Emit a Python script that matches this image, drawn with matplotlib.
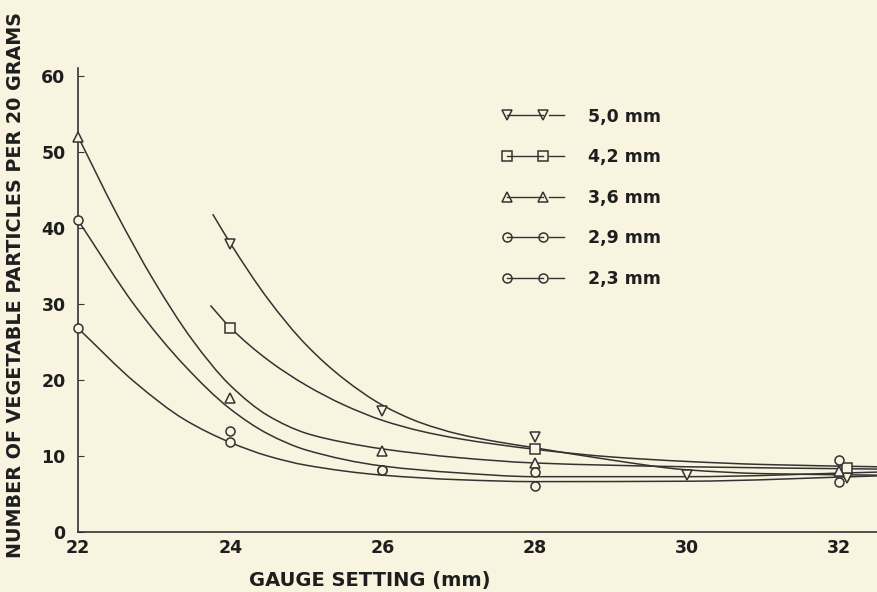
import numpy as np
import matplotlib
matplotlib.use("Agg")
import matplotlib.pyplot as plt
from matplotlib.lines import Line2D
from matplotlib.path import Path
from matplotlib.patches import PathPatch

gauge_ticks = [22, 24, 26, 28, 30, 32]
series_labels = ["5,0 mm", "4,2 mm", "3,6 mm", "2,9 mm", "2,3 mm"]
series_markers = ["v", "s", "^", "o", "o"]

x_50 = [24, 26, 28, 30, 32.1]
y_50 = [37.9, 15.9, 12.5, 7.5, 7.1]
x_42 = [24, 28, 32.1]
y_42 = [26.9, 11.0, 8.4]
x_36 = [22, 24, 26, 28, 32]
y_36 = [52.0, 17.6, 10.7, 9.1, 8.0]
x_29 = [22, 24, 26, 28, 32]
y_29 = [41.0, 13.3, 8.2, 7.9, 9.5]
x_23 = [22, 24, 26, 28, 32]
y_23 = [26.8, 11.8, 8.2, 6.1, 6.6]

# curvas desenhadas a mao (tracadas do grafico)
cx_50 = [23.77, 24.0, 24.5, 25.0, 25.5, 26.0, 26.5, 27.0, 27.5, 28.0, 29.0, 30.0, 31.0, 32.5]
cy_50 = [41.8, 38.0, 30.6, 24.6, 20.1, 16.7, 14.4, 12.9, 11.9, 11.1, 9.5, 8.2, 7.7, 7.5]
cx_42 = [23.74, 24.0, 24.5, 25.0, 25.5, 26.0, 26.5, 27.0, 28.0, 29.0, 30.0, 31.0, 32.5]
cy_42 = [29.8, 26.9, 22.6, 19.3, 16.7, 14.7, 13.3, 12.3, 10.9, 9.9, 9.3, 8.9, 8.6]
cx_36 = [22.0, 22.5, 23.0, 23.5, 24.0, 24.5, 25.0, 25.5, 26.0, 27.0, 28.0, 30.0, 32.5]
cy_36 = [52.0, 42.0, 33.0, 25.3, 19.3, 15.3, 13.0, 11.8, 10.95, 9.8, 9.1, 8.6, 8.3]
cx_29 = [22.0, 22.76, 23.4, 24.0, 24.5, 25.0, 26.0, 27.0, 28.0, 30.0, 32.5]
cy_29 = [41.0, 29.6, 21.9, 16.2, 12.9, 10.8, 8.7, 7.8, 7.3, 7.3, 7.9]
cx_23 = [22.0, 22.76, 23.4, 24.0, 24.5, 25.0, 26.0, 27.0, 28.0, 30.0, 32.5]
cy_23 = [26.8, 19.6, 14.8, 11.8, 10.0, 8.8, 7.5, 6.9, 6.65, 6.7, 7.4]

BG = "#f8f4df"
INK = "#333333"
TXT = "#1e1e1e"
plt.rcParams["font.family"] = ["DejaVu Sans"]


def curva_suave(x, y):
    """caminho bezier (tangentes monotonas de Fritsch-Carlson) pelos pontos tracados"""
    x = np.asarray(x, float)
    y = np.asarray(y, float)
    h = np.diff(x)
    d = np.diff(y) / h
    m = np.zeros_like(y)
    m[0], m[-1] = d[0], d[-1]
    for i in range(1, len(y) - 1):
        if d[i - 1] * d[i] <= 0:
            m[i] = 0.0
        else:
            w1 = 2 * h[i] + h[i - 1]
            w2 = h[i] + 2 * h[i - 1]
            m[i] = (w1 + w2) / (w1 / d[i - 1] + w2 / d[i])
    verts = [(x[0], y[0])]
    codes = [Path.MOVETO]
    for i in range(len(x) - 1):
        verts += [(x[i] + h[i] / 3, y[i] + m[i] * h[i] / 3),
                  (x[i + 1] - h[i] / 3, y[i + 1] - m[i + 1] * h[i] / 3),
                  (x[i + 1], y[i + 1])]
        codes += [Path.CURVE4] * 3
    return Path(verts, codes)


class MarcaLegenda:
    """marcador--linha--marcador seguido de um tracinho"""
    def legend_artist(self, legend, orig_handle, fontsize, handlebox):
        x0, y0 = handlebox.xdescent, handlebox.ydescent
        w, h = handlebox.width, handlebox.height
        ym = y0 + h / 2
        m = orig_handle.get_marker()
        a = Line2D([x0 + 4, x0 + 0.66 * w], [ym, ym], color=INK, lw=1.0,
                   marker=m, markersize=6.5, markerfacecolor="none",
                   markeredgecolor=INK, markeredgewidth=1.1)
        b = Line2D([x0 + 0.76 * w, x0 + w], [ym, ym], color=INK, lw=1.0)
        handlebox.add_artist(a)
        handlebox.add_artist(b)
        return a


fig = plt.figure(figsize=(8.77, 5.92), dpi=100, facecolor=BG)
ax = fig.add_axes([0.089, 0.101, 0.911, 0.784])
ax.set_facecolor(BG)

pontos = [(x_50, y_50), (x_42, y_42), (x_36, y_36), (x_29, y_29), (x_23, y_23)]
curvas = [(cx_50, cy_50), (cx_42, cy_42), (cx_36, cy_36), (cx_29, cy_29), (cx_23, cy_23)]
handles = []
for (xv, yv), (cx, cy), mk, lab in zip(pontos, curvas, series_markers, series_labels):
    ax.add_patch(PathPatch(curva_suave(cx, cy), facecolor="none", edgecolor=INK,
                           lw=1.1, zorder=2))
    ax.plot(xv, yv, linestyle="none", marker=mk, markersize=6.5,
            markerfacecolor=BG, markeredgecolor=INK, markeredgewidth=1.1,
            zorder=3, clip_on=False)
    handles.append(Line2D([], [], marker=mk, color=INK, label=lab))

ax.set_xlim(22, 32.5)
ax.set_ylim(0, 61)
ax.set_xticks(gauge_ticks)
ax.set_yticks(range(0, 61, 10))
for s in ["top", "right"]:
    ax.spines[s].set_visible(False)
for s in ["left", "bottom"]:
    ax.spines[s].set_color(INK)
    ax.spines[s].set_linewidth(1.2)

ax.tick_params(direction="in", length=4, color=INK, labelcolor=TXT,
               labelsize=12.5)
ax.tick_params(axis="y", pad=9)
ax.tick_params(axis="x", length=0, pad=5)
for t in ax.get_xticklabels() + ax.get_yticklabels():
    t.set_fontweight("bold")

ax.set_xlabel("GAUGE SETTING (mm)", weight="bold", fontsize=14, color=TXT)
ax.xaxis.set_label_coords(0.365, -0.083)
ax.set_ylabel("NUMBER OF VEGETABLE PARTICLES PER 20 GRAMS",
              weight="bold", fontsize=13.8, color=TXT)
ax.yaxis.set_label_coords(-0.066, 0.532)

leg = ax.legend(handles=handles, loc="upper left", bbox_to_anchor=(0.53, 0.915),
                frameon=False, handlelength=3.6, handletextpad=1.4,
                labelspacing=1.3, borderpad=0, borderaxespad=0,
                handler_map={Line2D: MarcaLegenda()},
                prop={"weight": "bold", "size": 12.5})
for t in leg.get_texts():
    t.set_color(TXT)

fig.savefig("out.png", dpi=100, facecolor=BG)
plt.close(fig)
